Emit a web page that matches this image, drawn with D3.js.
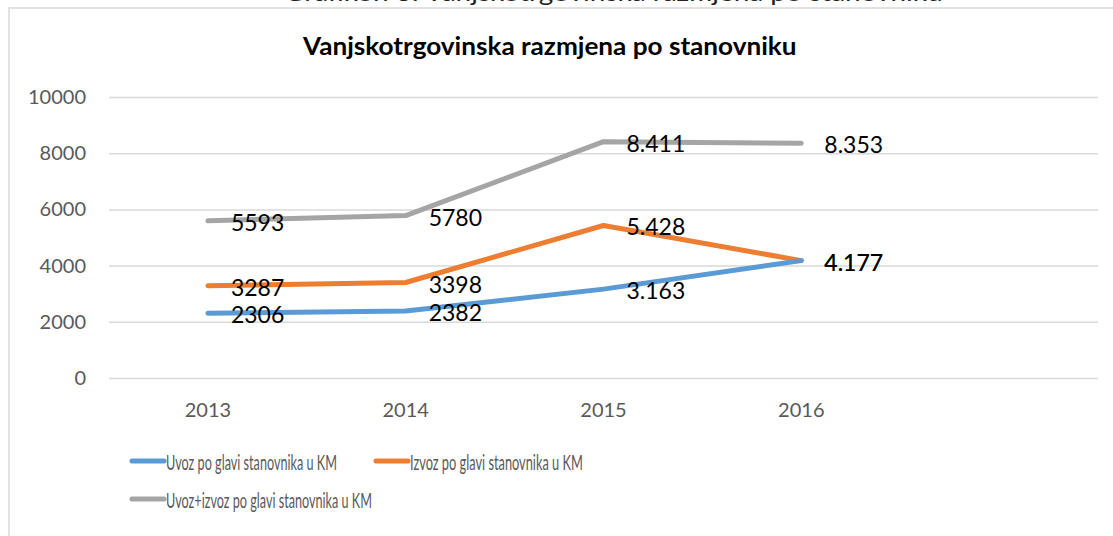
<!DOCTYPE html>
<html>
<head>
<meta charset="utf-8">
<script src="https://cdn.jsdelivr.net/npm/d3@7"></script>
<style>
  body { margin: 0; background: #fff; }
  svg { display: block; font-family: Lato, 'Open Sans', sans-serif; }
</style>
</head>
<body>
<div id="chart"></div>
<script>
const w = 1113
const h = 536

const years = ['2013', '2014', '2015', '2016', '']
const uvoz = [2306, 2382, 3163, 4177]
const izvoz = [3287, 3398, 5428, 4177]
const ukupno = [5593, 5780, 8411, 8353]
const labelsUvoz = ['2306', '2382', '3.163', '4.177']
const labelsIzvoz = ['3287', '3398', '5.428', '4.177']
const labelsUkupno = ['5593', '5780', '8.411', '8.353']
const seriesNames = ['Uvoz po glavi stanovnika u KM', 'Izvoz po glavi stanovnika u KM', 'Uvoz+izvoz po glavi stanovnika u KM']
const colors = ['#5B9BD5', '#ED7D31', '#A5A5A5']
const yTicks = [0, 2000, 4000, 6000, 8000, 10000]

const series = [
    { name: seriesNames[0], values: uvoz, labels: labelsUvoz, color: colors[0] },
    { name: seriesNames[1], values: izvoz, labels: labelsIzvoz, color: colors[1] },
    { name: seriesNames[2], values: ukupno, labels: labelsUkupno, color: colors[2] }
]

const svg = d3.select('#chart')
    .append('svg')
    .attr('width', w)
    .attr('height', h)

// squeeze a text horizontally to a given width, keeping its height
function squeeze(sel, x, y, width) {
    const len = sel.node().getComputedTextLength()
    sel.attr('x', 0).attr('y', 0)
        .attr('transform', 'translate(' + x + ',' + y + ') scale(' + (width / len) + ',1)')
}

// caption of the page, cut off at the top like in the source
svg.append('text')
    .style('font-size', '24px')
    .style('fill', '#222')
    .text('Grafikon 3. Vanjskotrgovinska razmjena po stanovniku')
    .call(squeeze, 284, 1, 659)

// chart area border
svg.append('rect')
    .attr('x', 9)
    .attr('y', 8)
    .attr('width', 1200)
    .attr('height', 600)
    .attr('fill', 'none')
    .attr('stroke', '#D9D9D9')
    .attr('stroke-width', 1.5)

svg.append('text')
    .style('font-size', '24px')
    .style('font-weight', 'bold')
    .style('fill', '#000')
    .text('Vanjskotrgovinska razmjena po stanovniku')
    .call(squeeze, 303, 55, 494)

const xScale = d3.scaleBand()
    .domain(years)
    .range([109, 1098])

const yScale = d3.scaleLinear()
    .domain([0, 10000])
    .range([378, 97])

const yAxis = d3.axisLeft(yScale)
    .tickValues(yTicks)
    .tickSize(-(1098 - 109))
    .tickPadding(23)
    .tickFormat(d3.format('d'))

const gy = svg.append('g')
    .attr('transform', 'translate(109, 0)')
    .call(yAxis)
gy.select('.domain').remove()
gy.selectAll('line').attr('stroke', '#D9D9D9').attr('stroke-width', 1.5)
gy.selectAll('text')
    .style('font-size', '20px')
    .style('fill', '#595959')
    .style('font-family', 'Lato, sans-serif')

const xAxis = d3.axisBottom(xScale)
    .tickSize(0)
    .tickPadding(25)

const gx = svg.append('g')
    .attr('transform', 'translate(0, 378)')
    .call(xAxis)
gx.select('.domain').remove()
gx.selectAll('text')
    .style('font-size', '20px')
    .style('fill', '#595959')
    .style('font-family', 'Lato, sans-serif')

const cx = (i) => xScale(years[i]) + xScale.bandwidth() / 2

const line = d3.line()
    .x((d, i) => cx(i))
    .y((d) => yScale(d))

// draw grey first, then orange, then blue
series.slice().reverse().forEach((s) => {
    svg.append('path')
        .datum(s.values)
        .attr('d', line)
        .attr('fill', 'none')
        .attr('stroke', s.color)
        .attr('stroke-width', 5)
        .attr('stroke-linecap', 'round')
        .attr('stroke-linejoin', 'round')
})

series.forEach((s) => {
    svg.append('g')
        .selectAll('text')
        .data(s.values)
        .enter()
        .append('text')
        .attr('x', (d, i) => cx(i) + 23)
        .attr('y', (d) => yScale(d) + 1)
        .attr('dominant-baseline', 'central')
        .style('font-size', '23px')
        .style('fill', '#000')
        .text((d, i) => s.labels[i])
})

// legend
const legendPos = [[132, 461, 171], [376, 461, 173], [132, 499, 206]]
series.forEach((s, i) => {
    const [lx, ly, tl] = legendPos[i]
    svg.append('line')
        .attr('x1', lx)
        .attr('x2', lx + 32)
        .attr('y1', ly)
        .attr('y2', ly)
        .attr('stroke', s.color)
        .attr('stroke-width', 5)
        .attr('stroke-linecap', 'round')
    svg.append('text')
        .attr('dominant-baseline', 'central')
        .style('font-size', '21px')
        .style('fill', '#595959')
        .text(s.name)
        .call(squeeze, lx + 34, ly + 1, tl)
})
</script>
</body>
</html>
